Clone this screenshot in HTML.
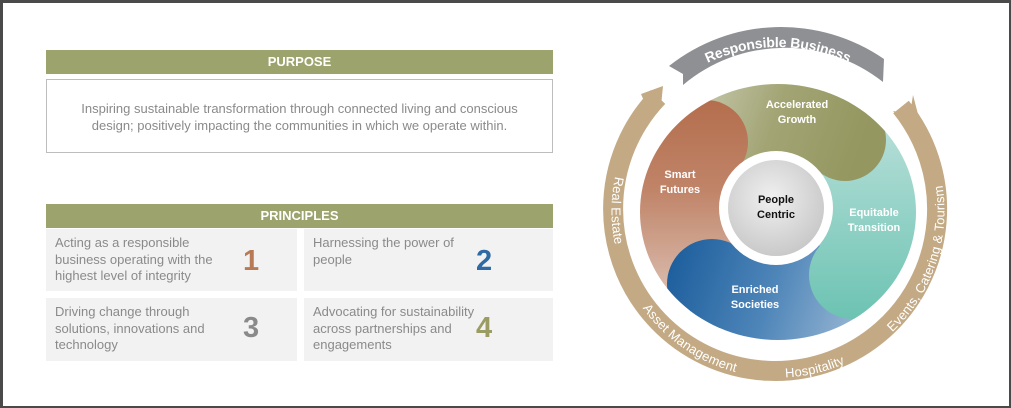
<!DOCTYPE html>
<html><head><meta charset="utf-8"><style>
*{margin:0;padding:0;box-sizing:border-box}
body{width:1011px;height:408px;background:#fff;font-family:"Liberation Sans",sans-serif;position:relative;overflow:hidden}
.frame{position:absolute;left:0;top:0;width:1011px;height:408px;border:3px solid #4a4a4a;border-right-width:2px;border-bottom-width:2px}
.hdr{position:absolute;left:46px;width:507px;height:24px;background:#9da36c;color:#fff;font-weight:bold;font-size:13px;text-align:center;line-height:24px}
.pbox{position:absolute;left:46px;top:79px;width:507px;height:74px;border:1px solid #bdbdbd;color:#8a8a8a;font-size:13px;text-align:center;line-height:17px;padding-top:20px}
.cell{position:absolute;background:#f2f2f2;color:#8a8a8a;font-size:13px;line-height:16.5px;padding:6px 0 0 9px}
.num{position:absolute;font-weight:bold;font-size:29px}
</style></head><body>
<div class="frame"></div>
<div class="hdr" style="top:50px">PURPOSE</div>
<div class="pbox">Inspiring sustainable transformation through connected living and conscious<br>design; positively impacting the communities in which we operate within.</div>
<div class="hdr" style="top:204px">PRINCIPLES</div>
<div class="cell" style="left:46px;top:229px;width:251px;height:62px">Acting as a responsible<br>business operating with the<br>highest level of integrity</div>
<div class="cell" style="left:304px;top:229px;width:249px;height:62px">Harnessing the power of<br>people</div>
<div class="cell" style="left:46px;top:298px;width:251px;height:63px">Driving change through<br>solutions, innovations and<br>technology</div>
<div class="cell" style="left:304px;top:298px;width:249px;height:63px">Advocating for sustainability<br>across partnerships and<br>engagements</div>
<div class="num" style="left:243px;top:245px;color:#b87a55">1</div>
<div class="num" style="left:476px;top:245px;color:#2e6aa3">2</div>
<div class="num" style="left:243px;top:312px;color:#8a8a8a">3</div>
<div class="num" style="left:476px;top:312px;color:#9a9c62">4</div>

<svg width="1011" height="408" style="position:absolute;left:0;top:0" font-family="Liberation Sans, sans-serif">
<defs>
<clipPath id="disc"><ellipse cx="778" cy="212" rx="138" ry="128"/></clipPath>
<linearGradient id="gO" gradientUnits="userSpaceOnUse" x1="690" y1="90" x2="860" y2="150"><stop offset="0" stop-color="#c8cbb0"/><stop offset="0.5" stop-color="#a2a474"/><stop offset="1" stop-color="#959760"/></linearGradient>
<linearGradient id="gT" gradientUnits="userSpaceOnUse" x1="0" y1="130" x2="0" y2="320"><stop offset="0" stop-color="#b4ded7"/><stop offset="1" stop-color="#6cc3b2"/></linearGradient>
<linearGradient id="gB" gradientUnits="userSpaceOnUse" x1="670" y1="250" x2="880" y2="320"><stop offset="0" stop-color="#1b5d9c"/><stop offset="0.5" stop-color="#4f86b9"/><stop offset="1" stop-color="#a6bfd8"/></linearGradient>
<linearGradient id="gR" gradientUnits="userSpaceOnUse" x1="0" y1="100" x2="0" y2="300"><stop offset="0" stop-color="#b46e4e"/><stop offset="0.45" stop-color="#c08468"/><stop offset="1" stop-color="#dcc0b3"/></linearGradient>
<radialGradient id="gC" cx="0.45" cy="0.4" r="0.65"><stop offset="0" stop-color="#f0f0f0"/><stop offset="1" stop-color="#c6c6c6"/></radialGradient>
<path id="ring" d="M663,97 A162,162 0 1 0 893,97"/>
<path id="top" d="M682,72 A169,169 0 0 1 874,72"/>
</defs>
<path d="M658,97 A162,162 0 1 0 901,107" fill="none" stroke="#c3aa85" stroke-width="20"/>
<polygon points="641,94 663,86 661,106 647,108" fill="#c3aa85"/>
<polygon points="893,111 910,114 913,95 919,118 905,125" fill="#c3aa85"/>
<text font-size="13" fill="#fff" dy="4.5"><textPath href="#ring" startOffset="126" text-anchor="middle">Real Estate</textPath></text>
<text font-size="13" fill="#fff" dy="4.5"><textPath href="#ring" startOffset="283" text-anchor="middle">Asset Management</textPath></text>
<text font-size="13" fill="#fff" dy="4.5"><textPath href="#ring" startOffset="418" text-anchor="middle">Hospitality</textPath></text>
<text font-size="13" fill="#fff" dy="4.5"><textPath href="#ring" startOffset="582" text-anchor="middle">Events, Catering &amp; Tourism</textPath></text>
<path d="M669,66 A181,181 0 0 1 884,59 L883,82 A158,158 0 0 0 683,85 L683,74 Z" fill="#8e9094"/>
<text font-size="14" fill="#fff" font-weight="bold" dy="5"><textPath href="#top" startOffset="50%" text-anchor="middle">Responsible Business</textPath></text>
<g clip-path="url(#disc)">
<path d="M778,212 L677.6,323.5 A150,150 0 0 1 671.9,105.9 Z" fill="url(#gR)"/>
<path d="M778,212 L671.9,105.9 A150,150 0 0 1 878.4,100.5 Z" fill="url(#gO)"/>
<path d="M778,212 L878.4,100.5 A150,150 0 0 1 894.6,306.4 Z" fill="url(#gT)"/>
<path d="M778,212 L894.6,306.4 A150,150 0 0 1 677.6,323.5 Z" fill="url(#gB)"/>
<circle cx="845" cy="140" r="41" fill="url(#gO)"/>
<circle cx="853" cy="275" r="44" fill="url(#gT)"/>
<circle cx="712" cy="284" r="45" fill="url(#gB)"/>
<circle cx="706" cy="142" r="42" fill="url(#gR)"/>
</g>
<circle cx="776" cy="208" r="57" fill="#fff"/>
<circle cx="776" cy="208" r="48" fill="url(#gC)"/>
<g font-size="11" font-weight="bold" fill="#fff" text-anchor="middle">
<text x="797" y="108">Accelerated</text><text x="797" y="123">Growth</text>
<text x="680" y="178">Smart</text><text x="680" y="193">Futures</text>
<text x="874" y="216">Equitable</text><text x="874" y="231">Transition</text>
<text x="755" y="293">Enriched</text><text x="755" y="308">Societies</text>
<text x="776" y="203" fill="#111">People</text><text x="776" y="218" fill="#111">Centric</text>
</g>
</svg>
</body></html>
